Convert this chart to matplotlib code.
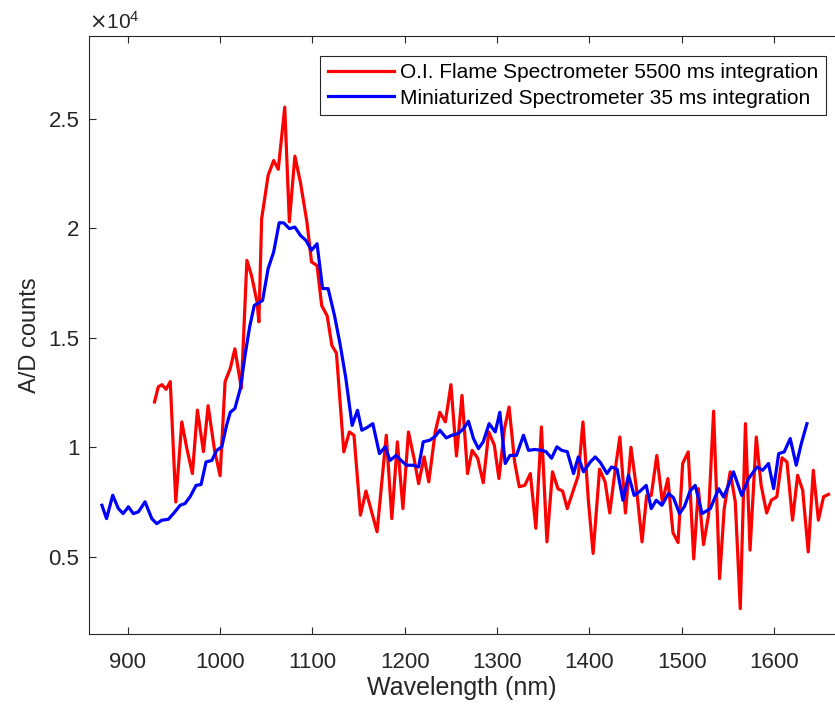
import matplotlib
matplotlib.use("Agg")
import matplotlib.pyplot as plt
from matplotlib.ticker import FuncFormatter

plt.rcParams["font.family"] = ["Liberation Sans", "DejaVu Sans"]

# O.I. Flame spectrometer (wavelength nm, counts x1e4)
flame_nm = [929, 933, 937, 941.5, 946, 952, 958.5, 964, 970, 975.4, 982, 987, 994,
            1000, 1005.4, 1011, 1016, 1023, 1029, 1034, 1040, 1042, 1045, 1052, 1058,
            1063, 1070, 1075, 1081, 1087, 1094, 1099, 1105, 1110, 1116, 1121, 1126,
            1134, 1140, 1145, 1152, 1158, 1170, 1180, 1186, 1192, 1198, 1204, 1210,
            1215, 1221, 1226, 1233, 1238, 1244, 1250, 1256, 1262, 1268, 1273, 1279,
            1285, 1291, 1297, 1302, 1308, 1313, 1319, 1324, 1330, 1336, 1342, 1348,
            1354, 1360, 1366, 1371, 1376, 1382, 1388, 1393, 1399, 1404, 1411, 1417,
            1422, 1428, 1433, 1439, 1445, 1451, 1457, 1462, 1467, 1473, 1479, 1485,
            1490.5, 1496, 1501, 1507, 1513, 1518, 1523.6, 1529, 1534.5, 1541, 1546,
            1552.5, 1558, 1563.4, 1569, 1574, 1580.7, 1586, 1592, 1597, 1603, 1608.6,
            1614, 1620, 1625.5, 1631, 1637, 1642.5, 1648, 1653.6, 1659]
flame_val = [1.207, 1.276, 1.286, 1.265, 1.30, 0.75, 1.116, 0.994, 0.88, 1.17, 0.98, 1.19, 0.986,
             0.87, 1.30, 1.36, 1.45, 1.27, 1.854, 1.785, 1.664, 1.573, 2.044, 2.242, 2.31,
             2.27, 2.554, 2.03, 2.33, 2.21, 2.03, 1.847, 1.83, 1.648, 1.60, 1.466, 1.43,
             0.979, 1.07, 1.055, 0.69, 0.80, 0.614, 1.055, 0.674, 1.025, 0.72, 1.07, 0.95,
             0.834, 0.956, 0.842, 1.07, 1.16, 1.116, 1.286, 0.96, 1.237, 0.88, 0.986, 0.95,
             0.838, 1.07, 1.01, 0.857, 1.085, 1.184, 0.933, 0.82, 0.826, 0.88, 0.63, 1.093,
             0.568, 0.888, 0.81, 0.80, 0.72, 0.796, 0.872, 1.116, 0.75, 0.515, 0.90, 0.842,
             0.70, 0.90, 1.047, 0.70, 1.0, 0.81, 0.568, 0.78, 0.78, 0.963, 0.75, 0.857,
             0.61, 0.565, 0.926, 0.979, 0.49, 0.811, 0.555, 0.69, 1.165, 0.40, 0.72,
             0.888, 0.75, 0.263, 1.108, 0.53, 1.047, 0.826, 0.70, 0.758, 0.774, 0.952,
             0.933, 0.667, 0.872, 0.804, 0.522, 0.895, 0.667, 0.774, 0.785]

# miniaturized spectrometer
mini_nm = [872, 877, 883.7, 889.8, 895, 900.7, 906, 911.5, 918.7, 926, 931.4, 936.8, 944,
           951, 956.7, 962, 967.5, 974, 979.4, 984.8, 991, 996.4, 1001.8, 1007, 1011, 1016,
           1022, 1027, 1032, 1037, 1042, 1046, 1052, 1058, 1064, 1069, 1075, 1081, 1087,
           1093, 1099, 1105, 1111, 1117, 1124, 1130, 1136, 1143, 1148.8, 1153.5, 1159,
           1165.4, 1172.6, 1178.8, 1184, 1190.7, 1196, 1202, 1209, 1215, 1220, 1227, 1233,
           1238, 1245, 1251, 1258, 1263.6, 1269, 1274.4, 1279.8, 1285, 1291.4, 1298, 1303,
           1308.8, 1314, 1321, 1328.6, 1334, 1341, 1348.5, 1353, 1359, 1364.8, 1370, 1376,
           1382.8, 1388, 1393.6, 1401, 1406.3, 1412, 1419, 1424, 1430, 1436.3, 1442.4,
           1448.5, 1455, 1461.5, 1467, 1472.4, 1478.5, 1485.7, 1491, 1497.6, 1503, 1509,
           1514.6, 1522, 1531, 1540, 1545.3, 1551, 1556, 1565, 1572.4, 1581.5, 1587.6,
           1594, 1599.5, 1605, 1611, 1617.5, 1624, 1629.5, 1635.6]
mini_val = [0.735, 0.674, 0.781, 0.72, 0.697, 0.728, 0.697, 0.705, 0.751, 0.674, 0.651, 0.667, 0.671,
            0.705, 0.735, 0.743, 0.774, 0.826, 0.83, 0.933, 0.94, 0.986, 1.002, 1.10, 1.16, 1.177,
            1.27, 1.42, 1.55, 1.648, 1.66, 1.671, 1.816, 1.892, 2.026, 2.025, 1.999, 2.006, 1.968,
            1.945, 1.90, 1.93, 1.725, 1.725, 1.60, 1.47, 1.32, 1.10, 1.169, 1.078, 1.09,
            1.108, 0.971, 1.002, 0.94, 0.963, 0.94, 0.918, 0.918, 0.91, 1.025, 1.032, 1.05,
            1.078, 1.043, 1.055, 1.063, 1.085, 1.119, 1.04, 0.994, 1.025, 1.108, 1.07, 1.16,
            0.926, 0.963, 0.963, 1.055, 0.986, 0.99, 0.986, 0.98, 0.95, 1.002, 0.986, 0.98,
            0.88, 0.956, 0.888, 0.933, 0.956, 0.93, 0.88, 0.91, 0.90, 0.758, 0.872,
            0.78, 0.80, 0.826, 0.72, 0.758, 0.735, 0.789, 0.77, 0.697, 0.73, 0.80,
            0.826, 0.697, 0.72, 0.811, 0.773, 0.83, 0.888, 0.78, 0.857, 0.91, 0.895,
            0.926, 0.811, 0.971, 0.979, 1.04, 0.918, 1.017, 1.108]

labels = ["O.I. Flame Spectrometer 5500 ms integration",
          "Miniaturized Spectrometer 35 ms integration"]

gray = "#262626"

fig = plt.figure(figsize=(8.35, 7.1), dpi=100)
ax = fig.add_axes([89 / 835, 76 / 710, 746 / 835, 598 / 710])

ax.plot(flame_nm, [v * 1e4 for v in flame_val], color=(1, 0, 0), lw=2.3, label=labels[0])
ax.plot(mini_nm, [v * 1e4 for v in mini_val], color=(0, 0, 1), lw=2.3, label=labels[1])

ax.set_xlim(858, 1666)
ax.set_ylim(1470, 28790)
ax.set_xticks([900, 1000, 1100, 1200, 1300, 1400, 1500, 1600])
ax.set_yticks([5000, 10000, 15000, 20000, 25000])
ax.yaxis.set_major_formatter(FuncFormatter(lambda v, p: f"{v / 1e4:g}"))

ax.spines["right"].set_visible(False)
for s in ["left", "top", "bottom"]:
    ax.spines[s].set_color(gray)
    ax.spines[s].set_linewidth(0.8)
ax.tick_params(direction="in", length=5, width=0.8, colors=gray, labelsize=16,
               top=True, right=False)
ax.tick_params(axis="x", pad=13)
ax.tick_params(axis="y", pad=7)

ax.set_xlabel("Wavelength (nm)", fontsize=18, color=gray, labelpad=2)
ax.set_ylabel("A/D counts", fontsize=17, color=gray, labelpad=5)
ax.text(0, 1.006, r"$\times\mathregular{10^{4}}$", transform=ax.transAxes,
        fontsize=15, color=gray, ha="left", va="bottom")

leg = ax.legend(loc="upper right", bbox_to_anchor=(1 - 9 / 746, 1 - 20 / 598),
                fontsize=15, frameon=True, fancybox=False, framealpha=1,
                handlelength=3.2, handletextpad=0.3, borderpad=0.35, labelspacing=0.3,
                borderaxespad=0)
leg.get_frame().set_edgecolor(gray)
leg.get_frame().set_linewidth(0.8)

fig.savefig("out.png", dpi=100)
